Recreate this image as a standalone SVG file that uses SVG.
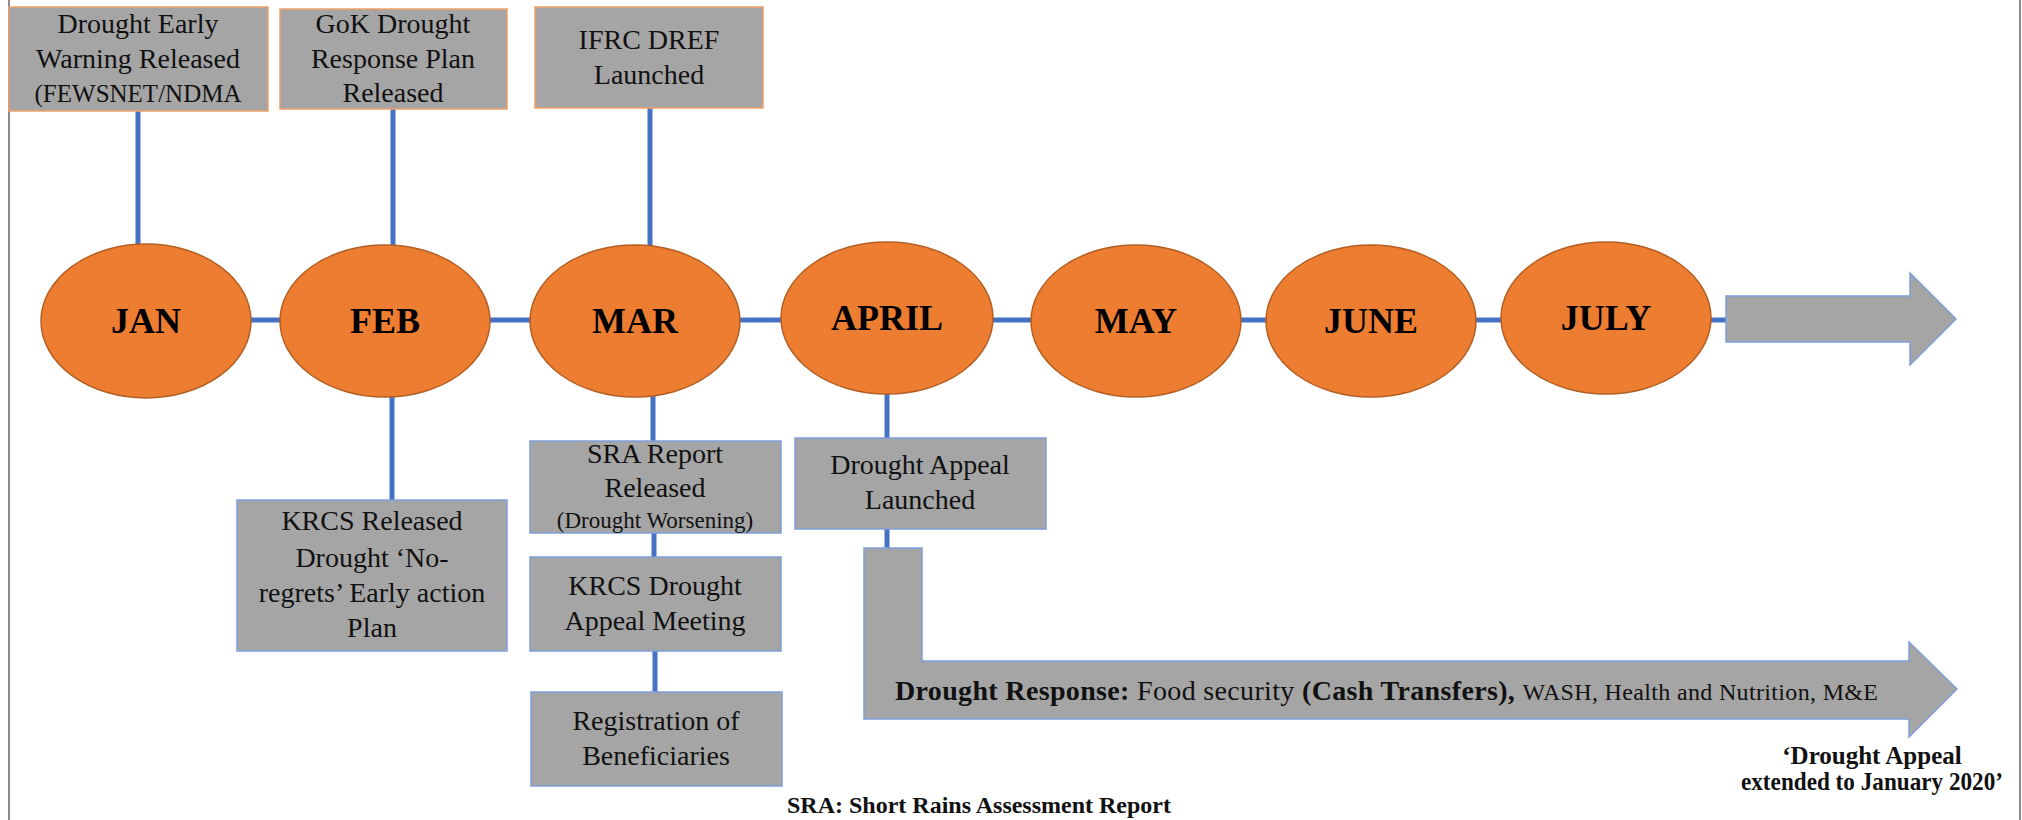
<svg xmlns="http://www.w3.org/2000/svg" width="2022" height="820" viewBox="0 0 2022 820">
<style>
  .t { font-family: "Liberation Serif", "Times New Roman", serif; font-size: 28px; fill: #111; text-anchor: middle; }
  .m { font-family: "Liberation Serif", "Times New Roman", serif; font-size: 36px; font-weight: bold; fill: #000; text-anchor: middle; }
  .b { font-weight: bold; }
  .boxTop { fill: #A5A5A5; stroke: #F0A06A; stroke-width: 1.5; }
  .boxBot { fill: #A5A5A5; stroke: #7F9FDA; stroke-width: 1.5; }
  .month { fill: #ED7D31; stroke: #B35E22; stroke-width: 1.5; }
  .arrow { fill: #A5A5A5; stroke: #7F9FDA; stroke-width: 1.5; }
  .con { stroke: #4472C4; stroke-width: 5; fill: none; }
</style>
<rect width="2022" height="820" fill="#ffffff"/>
<line x1="9" y1="0" x2="9" y2="820" stroke="#8C8C8C" stroke-width="2"/>
<line x1="2020" y1="0" x2="2020" y2="820" stroke="#8C8C8C" stroke-width="2"/>

<g id="connectors">
  <line class="con" x1="146" y1="320" x2="1730" y2="320"/>
  <line class="con" x1="138" y1="111" x2="138" y2="246"/>
  <line class="con" x1="393" y1="109" x2="393" y2="246"/>
  <line class="con" x1="650" y1="108" x2="650" y2="246"/>
  <line class="con" x1="392" y1="396" x2="392" y2="500"/>
  <line class="con" x1="653" y1="396" x2="653" y2="441"/>
  <line class="con" x1="654" y1="533" x2="654" y2="557"/>
  <line class="con" x1="655" y1="651" x2="655" y2="692"/>
  <line class="con" x1="887" y1="393" x2="887" y2="438"/>
  <line class="con" x1="887" y1="529" x2="887" y2="548"/>
</g>

<g id="box-early-warning">
  <rect class="boxTop" x="9" y="7" width="259" height="104"/>
  <text class="t" x="138" y="33">Drought Early</text>
  <text class="t" x="138" y="68">Warning Released</text>
  <text class="t" x="138" y="102" style="font-size:25px">(FEWSNET/NDMA</text>
</g>
<g id="box-gok">
  <rect class="boxTop" x="280" y="9" width="227" height="100"/>
  <text class="t" x="393" y="33">GoK Drought</text>
  <text class="t" x="393" y="68">Response Plan</text>
  <text class="t" x="393" y="102">Released</text>
</g>
<g id="box-ifrc">
  <rect class="boxTop" x="535" y="7" width="228" height="101"/>
  <text class="t" x="649" y="49">IFRC DREF</text>
  <text class="t" x="649" y="84">Launched</text>
</g>

<g id="month-jan"><ellipse class="month" cx="146" cy="321" rx="105" ry="77"/><text class="m" x="146" y="333">JAN</text></g>
<g id="month-feb"><ellipse class="month" cx="385" cy="321" rx="105" ry="76"/><text class="m" x="385" y="333">FEB</text></g>
<g id="month-mar"><ellipse class="month" cx="635" cy="321" rx="105" ry="76"/><text class="m" x="635" y="333">MAR</text></g>
<g id="month-april"><ellipse class="month" cx="887" cy="318" rx="106" ry="76"/><text class="m" x="887" y="330">APRIL</text></g>
<g id="month-may"><ellipse class="month" cx="1136" cy="321" rx="105" ry="76"/><text class="m" x="1136" y="333">MAY</text></g>
<g id="month-june"><ellipse class="month" cx="1371" cy="321" rx="105" ry="76"/><text class="m" x="1371" y="333">JUNE</text></g>
<g id="month-july"><ellipse class="month" cx="1606" cy="318" rx="105" ry="76"/><text class="m" x="1606" y="330">JULY</text></g>

<g id="timeline-arrow">
  <path class="arrow" d="M1726,296 H1910 V273 L1956,319 L1910,365 V342 H1726 Z"/>
</g>

<g id="box-krcs-plan">
  <rect class="boxBot" x="237" y="500" width="270" height="151"/>
  <text class="t" x="372" y="530">KRCS Released</text>
  <text class="t" x="372" y="567">Drought ‘No-</text>
  <text class="t" x="372" y="602">regrets’ Early action</text>
  <text class="t" x="372" y="637">Plan</text>
</g>
<g id="box-sra">
  <rect class="boxBot" x="530" y="441" width="251" height="92"/>
  <text class="t" x="655" y="463">SRA Report</text>
  <text class="t" x="655" y="497">Released</text>
  <text class="t" x="655" y="528" style="font-size:23px">(Drought Worsening)</text>
</g>
<g id="box-krcs-meeting">
  <rect class="boxBot" x="530" y="557" width="251" height="94"/>
  <text class="t" x="655" y="595">KRCS Drought</text>
  <text class="t" x="655" y="630">Appeal Meeting</text>
</g>
<g id="box-registration">
  <rect class="boxBot" x="531" y="692" width="251" height="94"/>
  <text class="t" x="656" y="730">Registration of</text>
  <text class="t" x="656" y="765">Beneficiaries</text>
</g>
<g id="box-appeal">
  <rect class="boxBot" x="795" y="438" width="251" height="91"/>
  <text class="t" x="920" y="474">Drought Appeal</text>
  <text class="t" x="920" y="509">Launched</text>
</g>

<g id="response-arrow">
  <path class="arrow" d="M864,548 H922 V661 H1909 V642 L1957,689 L1909,737 V719 H864 Z"/>
  <text class="t" style="text-anchor:start" x="895" y="700" textLength="983" lengthAdjust="spacing"><tspan class="b">Drought Response:</tspan> Food security <tspan class="b">(Cash Transfers),</tspan> <tspan style="font-size:24px">WASH, Health and Nutrition, M&amp;E</tspan></text>
</g>

<g id="note-extended">
  <text class="t b" x="1872" y="764" style="font-size:25px">‘Drought Appeal</text>
  <text class="t b" x="1872" y="790" style="font-size:25px" textLength="262" lengthAdjust="spacingAndGlyphs">extended to January 2020’</text>
</g>
<g id="note-sra">
  <text class="t b" x="787" y="813" style="text-anchor:start;font-size:24px">SRA: Short Rains Assessment Report</text>
</g>
</svg>
